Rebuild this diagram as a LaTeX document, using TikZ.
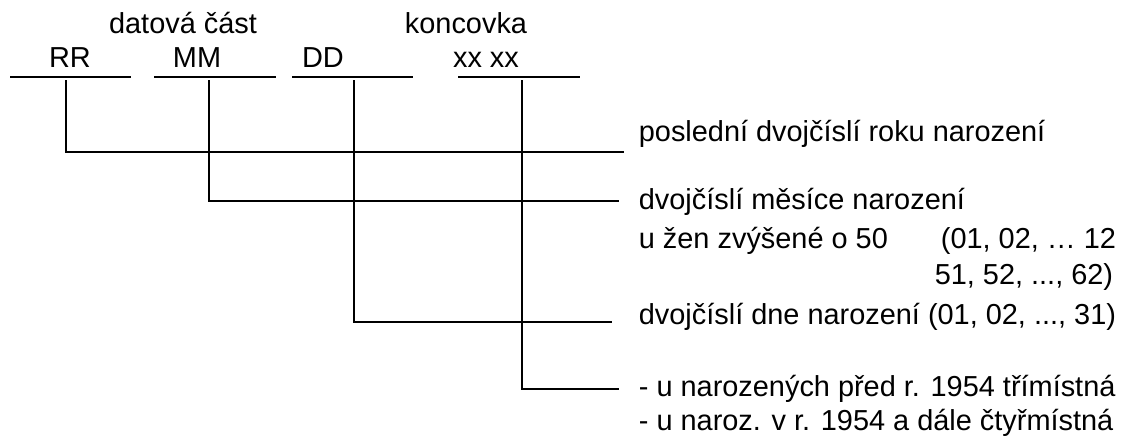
\documentclass[tikz,border=0pt]{standalone}
\usepackage{fontspec}
\setmainfont{Liberation Sans}
\usepackage{tikz}

\begin{document}
\begin{tikzpicture}[x=1pt,y=-1pt,line width=1.8pt]
			\tikzstyle{every node}=[inner sep=0pt,font=\fontsize{28.9}{34}\selectfont]
			\tikzstyle{head}=[anchor=base]
			\tikzstyle{note}=[anchor=base west]
			\tikzstyle{tree}=[to path={|- (\tikztotarget)}]
			\useasboundingbox (0,0) rectangle (1122,437);
			\node[head]    (datova)   at (183,33)   {datová část};
			\node[head]    (koncovka) at (466,33)   {koncovka};
			\node[head]    (RR)       at (70,67)    {RR};
			\node[head]    (MM)       at (197,67)   {MM};
			\node[head]    (DD)       at (323,67)   {DD};
			\node[head]    (XX)       at (486,67)   {xx xx};
			\node[note]    (rok)      at (638,141)  {poslední dvojčíslí roku narození};
			\node[note]    (mesic)    at (638,209)  {dvojčíslí měsíce narození};
			\node[note]    (zeny)     at (638,248)  {u žen zvýšené o 50};
			\node[note]    (rozsahA)  at (940,248)  {(01, 02, … 12};
			\node[anchor=base east] (rozsahB) at (1114,284) {51, 52, ..., 62)};
			\node[note]    (den)      at (638,324)  {dvojčíslí dne narození (01, 02, ..., 31)};
			\node[note]    (pred)     at (638,396)  {- u narozených před r. 1954 třímístná};
			\node[note]    (po)       at (638,430)  {- u naroz. v r. 1954 a dále čtyřmístná};
			\foreach \name/\a/\b/\t in {RR/10/131/66, MM/154/276/209, DD/292/413/354, XX/458/580/522} {
				\coordinate (\name a) at (\a,77);
				\coordinate (\name b) at (\b,77);
				\coordinate (\name t) at (\t,80);
				\draw (\name a) -- (\name b);
			}
			\coordinate (RRe) at (624,152);
			\coordinate (MMe) at (619,201);
			\coordinate (DDe) at (612,322);
			\coordinate (XXe) at (619,389);
			\path
			(RRt) edge[tree] (RRe)
			(MMt) edge[tree] (MMe)
			(DDt) edge[tree] (DDe)
			(XXt) edge[tree] (XXe);
		\end{tikzpicture}
\end{document}
